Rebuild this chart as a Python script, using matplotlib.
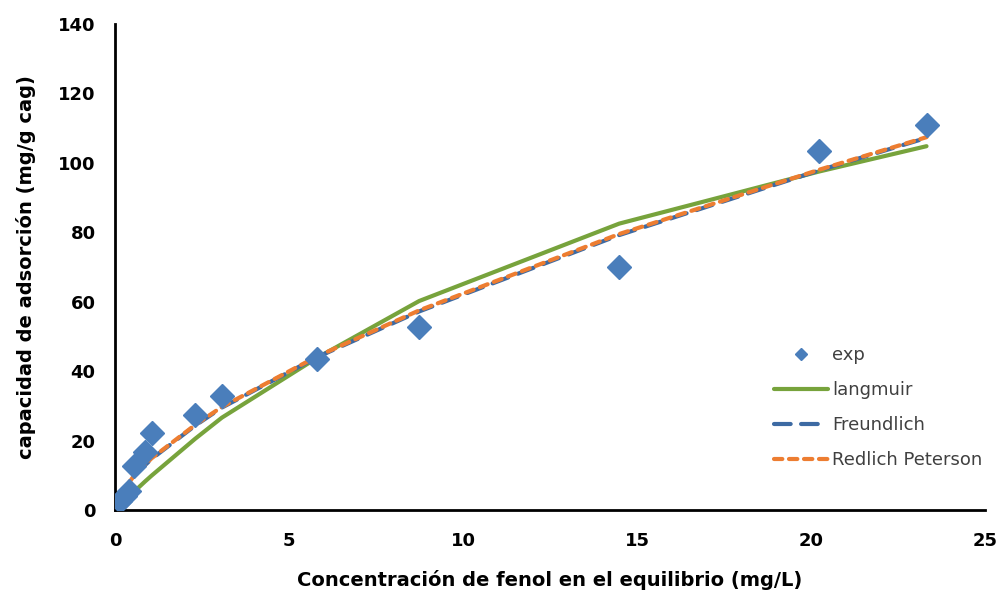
import matplotlib
matplotlib.use("Agg")
import matplotlib.pyplot as plt

# Equilibrium phenol concentration (mg/L) and adsorption capacity (mg/g)
conc = [0.15, 0.28, 0.40, 0.55, 0.86, 1.05, 2.30, 3.07, 5.80, 8.74, 14.49, 20.23, 23.32]
q_exp = [2.5, 4.0, 5.5, 12.7, 16.8, 22.1, 27.4, 32.9, 43.5, 52.7, 70.1, 103.5, 110.9]

# Model curves evaluated at the same concentrations
q_langmuir = [1.5, 2.7, 3.9, 5.3, 8.2, 9.9, 20.5, 26.6, 43.8, 60.2, 82.5, 97.5, 104.8]
q_freundlich = [4.3, 6.2, 7.8, 9.8, 12.9, 14.7, 24.3, 29.5, 44.0, 57.2, 79.2, 97.8, 107.2]
q_redlich = [4.4, 6.3, 7.9, 9.9, 13.0, 14.9, 24.5, 29.7, 44.2, 57.5, 79.5, 98.0, 107.4]

x_ticks = [0, 5, 10, 15, 20, 25]
y_ticks = [0, 20, 40, 60, 80, 100, 120, 140]

fig = plt.figure(figsize=(10.02, 5.94), dpi=100)
ax = fig.add_axes([0.1148, 0.1414, 0.8682, 0.8182])

ax.plot(conc, q_exp, linestyle="none", marker="D", markersize=12,
        color="#4a7ebb", label="exp", zorder=5)
ax.plot(conc, q_langmuir, color="#77a33c", linewidth=3, label="langmuir",
        solid_capstyle="round", zorder=2)
ax.plot(conc, q_freundlich, color="#3d6aa3", linewidth=3, linestyle=(0, (4, 2.5)),
        label="Freundlich", dash_capstyle="round", zorder=3)
ax.plot(conc, q_redlich, color="#ed7d31", linewidth=3, linestyle=(0, (2, 1.6)),
        label="Redlich Peterson", dash_capstyle="round", zorder=4)

ax.set_xlim(0, 25)
ax.set_ylim(0, 140)
ax.set_xticks(x_ticks)
ax.set_yticks(y_ticks)
ax.tick_params(length=0, labelsize=13)
ax.tick_params(axis="x", pad=16)
ax.tick_params(axis="y", pad=14)
for lab in ax.get_xticklabels() + ax.get_yticklabels():
    lab.set_fontweight("bold")

for side in ("top", "right"):
    ax.spines[side].set_visible(False)
for side in ("left", "bottom"):
    ax.spines[side].set_linewidth(2)
    ax.spines[side].set_color("black")

ax.set_xlabel("Concentración de fenol en el equilibrio (mg/L)", fontsize=14,
              fontweight="bold", labelpad=14)
ax.set_ylabel("capacidad de adsorción (mg/g cag)", fontsize=14,
              fontweight="bold", labelpad=16)

leg = ax.legend(loc="lower right", bbox_to_anchor=(1.016, 0.05), frameon=False,
                fontsize=13, handlelength=3.0, handletextpad=0.25,
                labelspacing=0.95, markerscale=0.55)
for t in leg.get_texts():
    t.set_color("#404040")

fig.savefig("out.png", dpi=100)
